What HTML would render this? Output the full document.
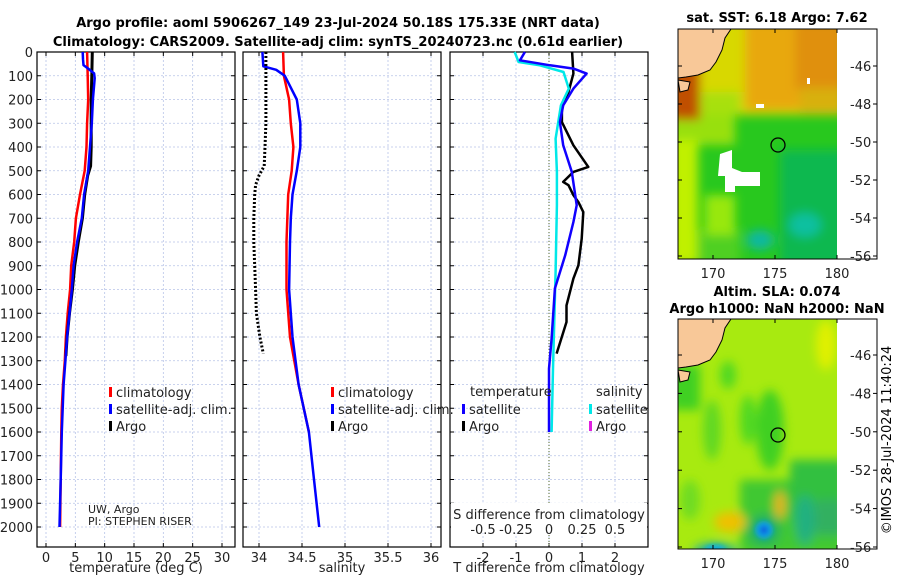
<!DOCTYPE html>
<html><head><meta charset="utf-8">
<style>
html,body{margin:0;padding:0;background:#fff;}
svg{display:block;font-family:"DejaVu Sans","Liberation Sans",sans-serif;}
</style></head>
<body>
<svg id="fig" width="900" height="580" viewBox="0 0 900 580" xmlns="http://www.w3.org/2000/svg">
<defs>
<filter id="blur4" filterUnits="userSpaceOnUse" x="600" y="0" width="300" height="580"><feGaussianBlur stdDeviation="5"/></filter>
<filter id="blur2" filterUnits="userSpaceOnUse" x="600" y="0" width="300" height="580"><feGaussianBlur stdDeviation="2.5"/></filter>
<clipPath id="clipM1"><rect x="678" y="29" width="159" height="230"/></clipPath>
<clipPath id="clipM2"><rect x="678" y="319" width="159" height="230"/></clipPath>
</defs>
<text x="338" y="27" text-anchor="middle" font-size="13" font-weight="bold">Argo profile: aoml 5906267_149 23-Jul-2024 50.18S 175.33E (NRT data)</text>
<text x="338" y="46" text-anchor="middle" font-size="13" font-weight="bold">Climatology: CARS2009. Satellite-adj clim: synTS_20240723.nc (0.61d earlier)</text>

<g id="p1"></g>
<g id="p2"></g>
<g id="p3"></g>

<!-- Map 1 -->
<g>
<text x="777" y="22" text-anchor="middle" font-size="13" font-weight="bold">sat. SST: 6.18 Argo: 7.62</text>
<g clip-path="url(#clipM1)">
<rect x="678" y="29" width="159" height="230" fill="#28c81e"/>
<g filter="url(#blur4)">
<rect x="670" y="20" width="175" height="95" fill="#d8d800"/>
<rect x="745" y="20" width="100" height="90" fill="#e8a810"/>
<rect x="795" y="20" width="50" height="70" fill="#e09010"/>
<rect x="670" y="105" width="65" height="40" fill="#98e010"/>
<rect x="670" y="140" width="28" height="125" fill="#c0f000"/>
<rect x="700" y="92" width="40" height="22" fill="#a8e010"/>
<rect x="800" y="88" width="45" height="25" fill="#d8b010"/>
<rect x="780" y="150" width="65" height="115" fill="#10b850"/>
<rect x="700" y="230" width="40" height="35" fill="#50d020"/>
<ellipse cx="760" cy="240" rx="14" ry="10" fill="#10b8a0"/>
<ellipse cx="805" cy="225" rx="16" ry="12" fill="#10c0a0"/>
<rect x="670" y="20" width="30" height="100" fill="#c05000"/>
<rect x="705" y="195" width="30" height="40" fill="#98e810"/>
</g>
<rect x="678" y="29" width="6" height="14" fill="#a01000"/>
<path d="M720,154 L732,150 L732,168 L742,172 L760,172 L760,186 L735,186 L735,192 L725,192 L725,176 L718,176 Z" fill="#ffffff"/>
<rect x="756" y="104" width="8" height="4" fill="#fff"/><rect x="807" y="78" width="3" height="6" fill="#fff"/>
<path d="M678,29 L731,29 L725,38 L722,50 L716,62 L710,70 L698,75 L686,77 L678,78 Z" fill="#f8c898" stroke="#000" stroke-width="1"/>
<path d="M678,80 L690,82 L688,90 L680,92 Z" fill="#f8c898" stroke="#000" stroke-width="1"/>
</g>
<circle cx="778" cy="145" r="7" fill="none" stroke="#000" stroke-width="1.3"/>
<rect x="678" y="29" width="199" height="230" fill="none" stroke="#000" stroke-width="1"/>
</g>

<!-- Map 2 -->
<g>
<text x="777" y="296" text-anchor="middle" font-size="13" font-weight="bold">Altim. SLA: 0.074</text>
<text x="777" y="313" text-anchor="middle" font-size="13" font-weight="bold">Argo h1000: NaN h2000: NaN</text>
<g clip-path="url(#clipM2)">
<rect x="678" y="319" width="159" height="230" fill="#a8ea10"/>
<g filter="url(#blur4)">
<rect x="670" y="365" width="30" height="45" fill="#40d020"/>
<ellipse cx="770" cy="430" rx="14" ry="40" fill="#40d020"/>
<rect x="740" y="480" width="105" height="75" fill="#40c830"/>
<rect x="790" y="460" width="55" height="60" fill="#30c040"/>
<rect x="815" y="500" width="30" height="35" fill="#30b060"/>
<ellipse cx="712" cy="430" rx="9" ry="30" fill="#60d820"/>
<ellipse cx="748" cy="420" rx="8" ry="25" fill="#50d820"/>
<ellipse cx="728" cy="375" rx="8" ry="14" fill="#50d820"/>
<ellipse cx="690" cy="500" rx="10" ry="20" fill="#70dc20"/>
<ellipse cx="730" cy="522" rx="16" ry="10" fill="#f0c000"/>
<ellipse cx="780" cy="505" rx="5" ry="14" fill="#f0b020"/>
<ellipse cx="826" cy="345" rx="10" ry="25" fill="#e0f000"/>
<ellipse cx="764" cy="530" rx="16" ry="16" fill="#20b060"/>
<ellipse cx="715" cy="552" rx="22" ry="9" fill="#20b0a0"/>
<ellipse cx="805" cy="520" rx="10" ry="25" fill="#20b080"/>
</g>
<g filter="url(#blur2)">
<ellipse cx="764" cy="530" rx="9" ry="9" fill="#10a0e0"/>
<ellipse cx="764" cy="530" rx="4" ry="4" fill="#1060e0"/>
<ellipse cx="715" cy="549" rx="10" ry="4" fill="#10b0e0"/>
</g>
<path d="M678,319 L731,319 L725,328 L722,340 L716,352 L710,360 L698,365 L686,367 L678,368 Z" fill="#f8c898" stroke="#000" stroke-width="1"/>
<path d="M678,370 L690,372 L688,380 L680,382 Z" fill="#f8c898" stroke="#000" stroke-width="1"/>
</g>
<circle cx="778" cy="435" r="7" fill="none" stroke="#000" stroke-width="1.3"/>
<rect x="678" y="319" width="199" height="230" fill="none" stroke="#000" stroke-width="1"/>
</g>
<g id="maps-axes"></g>
<text transform="translate(891,440) rotate(-90)" text-anchor="middle" font-size="13">©IMOS 28-Jul-2024 11:40:24</text>
</svg>
<script>
// ---- data ----
const depthTicks = [0,100,200,300,400,500,600,700,800,900,1000,1100,1200,1300,1400,1500,1600,1700,1800,1900,2000];
const tempTicks = [0,5,10,15,20,25,30];
const salTicks = [34,34.5,35,35.5,36];
const tdiffTicks = [-2,-1,0,1,2];
const sdiffTicks = [-0.5,-0.25,0,0.25,0.5];
const sdiffTickLabels = ["-0.5","-0.25","0","0.25","0.5"];

const climTempDepth = [0,100,200,300,400,500,600,700,800,900,1000,1100,1200,1300,1400,1500,1600,1800,2000];
const climTempVal   = [7.0,7.1,7.2,7.0,6.9,6.6,5.8,5.1,4.8,4.3,4.1,3.7,3.4,3.2,2.9,2.7,2.6,2.5,2.4];
const satTempDepth = [0,30,55,70,90,110,200,300,400,500,600,700,800,900,1000,1100,1200,1300,1400,1600,1800,2000];
const satTempVal   = [6.25,6.3,6.4,7.2,8.2,8.3,8.0,7.8,7.5,7.2,6.5,6.1,5.3,4.7,4.4,4.0,3.6,3.3,3.0,2.7,2.5,2.3];
const argoTempDepth = [0,100,200,300,400,480,520,600,700,800,900,1000,1100,1200,1280];
const argoTempVal   = [7.9,7.8,7.7,7.7,7.7,7.6,7.1,6.6,6.2,5.5,4.9,4.5,4.0,3.6,3.4];

const climSalDepth = [0,100,200,300,400,500,600,800,1000,1200,1400,1600];
const climSalVal   = [34.28,34.29,34.35,34.37,34.40,34.38,34.34,34.32,34.32,34.36,34.46,34.58];
const satSalDepth = [0,60,75,100,200,300,400,500,600,700,800,1000,1200,1400,1600,1800,2000];
const satSalVal   = [34.04,34.05,34.2,34.30,34.44,34.48,34.48,34.44,34.39,34.37,34.36,34.35,34.39,34.46,34.58,34.64,34.70];
const argoSalDepth = [0,100,200,300,400,480,520,560,600,700,800,900,1000,1100,1200,1270];
const argoSalVal   = [34.08,34.08,34.08,34.08,34.07,34.06,34.00,33.96,33.95,33.94,33.94,33.95,33.96,33.97,34.01,34.05];

const argoTdiffDepth = [0,91,168,225,295,393,484,505,547,561,603,632,674,786,898,954,1067,1137,1270];
const argoTdiffVal   = [0.70,0.74,0.59,0.39,0.39,0.74,1.19,0.74,0.43,0.59,0.74,0.89,1.04,0.99,0.89,0.74,0.53,0.53,0.23];
const satTdiffDepth = [0,35,56,70,91,154,225,295,393,505,645,716,856,996,1207,1333,1600];
const satTdiffVal   = [-0.73,-0.88,0.03,0.74,1.14,0.74,0.43,0.33,0.43,0.69,0.84,0.74,0.49,0.18,0.08,0.0,0.0];
const satSdiffDepth = [0,42,56,84,154,225,365,505,645,926,1333,1600];
const satSdiffVal   = [-0.26,-0.23,-0.07,0.11,0.15,0.09,0.05,0.06,0.06,0.05,0.03,0.02];

const mapLonTicks = [170,175,180];
const mapLatTicks = [-46,-48,-50,-52,-54,-56];

// ---- helpers ----
const NS = "http://www.w3.org/2000/svg";
const yD = d => 52 + d * 0.2375;
function mk(parent, tag, attrs, text){
  const el = document.createElementNS(NS, tag);
  for (const k in attrs) el.setAttribute(k, attrs[k]);
  if (text !== undefined) el.textContent = text;
  parent.appendChild(el);
  return el;
}
const PX0 = 37, PY0 = 52, PH = 495, PW = 198;

function panel(g, x0, xs, ticks, tickLabels, xtitle, showY){
  const grid = mk(g,'g',{});
  
  
  ticks.forEach(t=>{
    mk(grid,'line',{x1:xs(t),x2:xs(t),y1:PY0,y2:PY0+PH,stroke:'#b8c4e8','stroke-width':0.8,'stroke-dasharray':'2,2'});
  });
  depthTicks.forEach(d=>{
    mk(grid,'line',{x1:x0,x2:x0+PW,y1:yD(d),y2:yD(d),stroke:'#b8c4e8','stroke-width':0.8,'stroke-dasharray':'2,2'});
    mk(g,'line',{x1:x0,x2:x0+4,y1:yD(d),y2:yD(d),stroke:'#000'});
    mk(g,'line',{x1:x0+PW-4,x2:x0+PW,y1:yD(d),y2:yD(d),stroke:'#000'});
    if(showY){
      const t = mk(g,'text',{x:x0-4,y:yD(d)+5,'text-anchor':'end','font-size':13,fill:'#222'},String(d));
      
      
    }
  });
  ticks.forEach((t,i)=>{
    mk(g,'line',{x1:xs(t),x2:xs(t),y1:PY0+PH-4,y2:PY0+PH,stroke:'#000'});
    mk(g,'line',{x1:xs(t),x2:xs(t),y1:PY0,y2:PY0+4,stroke:'#000'});
    const tl = mk(g,'text',{x:xs(t),y:PY0+PH+15,'text-anchor':'middle','font-size':13,fill:'#222'},tickLabels[i]);
    
    
  });
  mk(g,'rect',{x:x0,y:PY0,width:PW,height:PH,fill:'none',stroke:'#000','stroke-width':1.2});
  const xt = mk(g,'text',{x:x0+PW/2,y:572,'text-anchor':'middle','font-size':13,fill:'#222'},xtitle);
  
  
}
function line(g, depths, vals, xs, color, w, dash, name){
  const pts = depths.map((d,i)=>xs(vals[i]).toFixed(1)+','+yD(d).toFixed(1)).join(' ');
  const p = mk(g,'polyline',{points:pts,fill:'none',stroke:color,'stroke-width':w,'stroke-linejoin':'round'});
  if(dash) p.setAttribute('stroke-dasharray',dash);
  
  
}
function legendEntry(g, x, y, color, label, name){
  mk(g,'rect',{x:x,y:y-9,width:3,height:10,fill:color});
  const t = mk(g,'text',{x:x+7,y:y+1,'font-size':13,fill:'#222'},label);
  
  
}

// ---- panel 1: temperature ----
const p1 = document.getElementById('p1');
const xT = v => 46 + v * (176/30);
panel(p1, 37, xT, tempTicks, tempTicks.map(String), 'temperature (deg C)', true);
line(p1, climTempDepth, climTempVal, xT, '#f00', 2.5, null, 'climatology-temperature-line');
line(p1, argoTempDepth, argoTempVal, xT, '#000', 3, null, 'argo-temperature-line');
line(p1, satTempDepth, satTempVal, xT, '#00f', 2.5, null, 'satellite-temperature-line');
legendEntry(p1, 109, 396, '#f00', 'climatology', 'legend-climatology');
legendEntry(p1, 109, 413, '#00f', 'satellite-adj. clim.', 'legend-satellite-adj');
legendEntry(p1, 109, 430, '#000', 'Argo', 'legend-argo');
const pi1 = mk(p1,'text',{x:88,y:513,'font-size':11,fill:'#222'},'UW, Argo');


const pi2 = mk(p1,'text',{x:88,y:525,'font-size':11,fill:'#222'},'PI: STEPHEN RISER');



// ---- panel 2: salinity ----
const p2 = document.getElementById('p2');
const xS = v => 259 + (v-34) * 86;
panel(p2, 243, xS, salTicks, salTicks.map(String), 'salinity', false);
line(p2, climSalDepth, climSalVal, xS, '#f00', 2.5, null, 'climatology-salinity-line');
line(p2, satSalDepth, satSalVal, xS, '#00f', 2.5, null, 'satellite-salinity-line');
line(p2, argoSalDepth, argoSalVal, xS, '#000', 3, '2,2', 'argo-salinity-line');
legendEntry(p2, 331, 396, '#f00', 'climatology', 'legend-climatology-sal');
legendEntry(p2, 331, 413, '#00f', 'satellite-adj. clim.', 'legend-satellite-adj-sal');
legendEntry(p2, 331, 430, '#000', 'Argo', 'legend-argo-sal');

// ---- panel 3: differences ----
const p3 = document.getElementById('p3');
const xTd = v => 549 + v * 33;
const xSd = v => 549 + v * 132;
panel(p3, 450, xTd, tdiffTicks, tdiffTicks.map(String), 'T difference from climatology', false);
mk(p3,'line',{x1:549,x2:549,y1:PY0,y2:PY0+PH,stroke:'#556b2f','stroke-width':1,'stroke-dasharray':'1,2'});
line(p3, argoTdiffDepth, argoTdiffVal, xTd, '#000', 2.5, null, 'argo-temperature-difference-line');
line(p3, satSdiffDepth, satSdiffVal, xSd, '#00e8e8', 2.5, null, 'satellite-salinity-difference-line');
line(p3, satTdiffDepth, satTdiffVal, xTd, '#10f', 2.5, null, 'satellite-temperature-difference-line');
const lt = mk(p3,'text',{x:470,y:396,'font-size':13,fill:'#222'},'temperature');


const ls = mk(p3,'text',{x:596,y:396,'font-size':13,fill:'#222'},'salinity');


legendEntry(p3, 462, 413, '#10f', 'satellite', 'legend-t-satellite');
legendEntry(p3, 462, 430, '#000', 'Argo', 'legend-t-argo');
legendEntry(p3, 589, 413, '#00e8e8', 'satellite', 'legend-s-satellite');
legendEntry(p3, 589, 430, '#e020e0', 'Argo', 'legend-s-argo');
mk(p3,'rect',{x:451,y:503,width:196,height:30,fill:'#fff'});
const st = mk(p3,'text',{x:549,y:519,'text-anchor':'middle','font-size':13,fill:'#222'},'S difference from climatology');


sdiffTicks.forEach((t,i)=>{
  const tl = mk(p3,'text',{x:xSd(t),y:534,'text-anchor':'middle','font-size':13,fill:'#222'},sdiffTickLabels[i]);
  
  
});

// ---- map axes ----
const ma = document.getElementById('maps-axes');
const lonX = v => 713 + (v-170) * 12.4;
function mapAxes(top, latY){
  mapLonTicks.forEach(l=>{
    mk(ma,'line',{x1:lonX(l),x2:lonX(l),y1:top+226,y2:top+230,stroke:'#000'});
    mk(ma,'line',{x1:lonX(l),x2:lonX(l),y1:top,y2:top+4,stroke:'#000'});
    const t = mk(ma,'text',{x:lonX(l),y:top+249,'text-anchor':'middle','font-size':13,fill:'#222'},String(l));
    
    
  });
  mapLatTicks.forEach(l=>{
    mk(ma,'line',{x1:873,x2:877,y1:latY(l),y2:latY(l),stroke:'#000'});
    mk(ma,'line',{x1:678,x2:682,y1:latY(l),y2:latY(l),stroke:'#000'});
    const t = mk(ma,'text',{x:850,y:latY(l)+5,'font-size':13,fill:'#222'},String(l));
    
    
  });
}
mapAxes(29, l => 66 + (-46 - l) * 19);
mapAxes(319, l => 355 + (-46 - l) * 19.2);
</script>
</body></html>
